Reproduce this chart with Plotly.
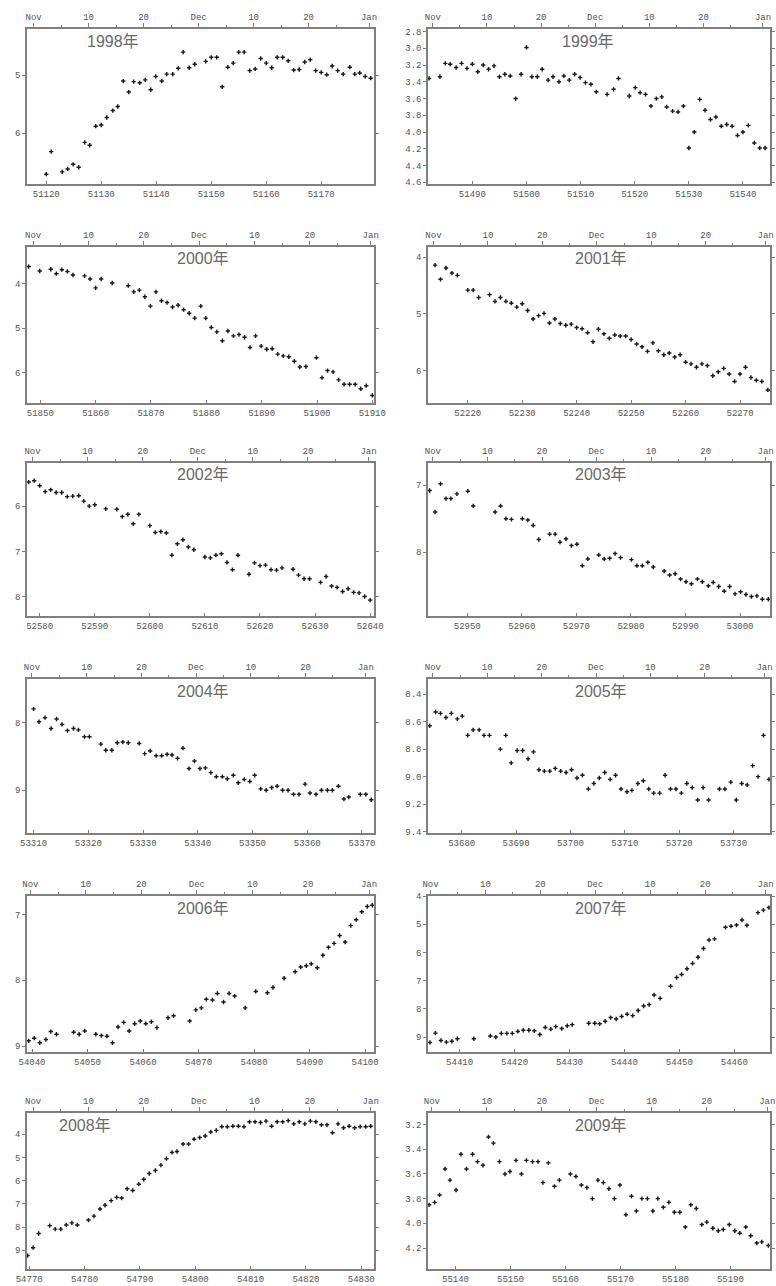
import plotly.graph_objects as go
from datetime import date

W, H = 776, 1286

years = [1998, 1999, 2000, 2001, 2002, 2003, 2004, 2005, 2006, 2007, 2008, 2009]

mjd_1998 = [51120.0, 51120.9, 51122.9, 51123.9, 51124.9, 51125.9, 51127.0, 51127.9, 51129.0, 51130.0,
            51131.0, 51132.1, 51133.0, 51134.0, 51135.0, 51135.9, 51137.0, 51138.0, 51139.0, 51139.9,
            51141.0, 51141.9, 51143.0, 51144.0, 51144.9, 51146.0, 51147.0, 51149.0, 51150.0, 51151.0,
            51152.0, 51153.0, 51154.0, 51155.0, 51156.0, 51157.0, 51158.0, 51159.0, 51160.0, 51161.0,
            51162.0, 51163.0, 51164.0, 51165.0, 51166.0, 51167.0, 51168.0, 51169.0, 51170.0, 51171.0,
            51172.0, 51173.0, 51174.0, 51175.2, 51176.1, 51177.0, 51178.0, 51179.0]
mag_1998 = [6.71, 6.32, 6.67, 6.62, 6.54, 6.59, 6.16, 6.21, 5.88, 5.86,
            5.73, 5.61, 5.54, 5.10, 5.29, 5.11, 5.13, 5.08, 5.25, 5.02,
            5.10, 4.98, 4.98, 4.88, 4.60, 4.87, 4.81, 4.76, 4.69, 4.69,
            5.20, 4.86, 4.79, 4.60, 4.60, 4.92, 4.89, 4.71, 4.79, 4.87,
            4.69, 4.69, 4.75, 4.91, 4.90, 4.77, 4.73, 4.92, 4.95, 4.99,
            4.84, 4.92, 4.98, 4.86, 4.98, 4.96, 5.02, 5.05]

mjd_1999 = [51482.0, 51484.0, 51485.0, 51485.9, 51487.0, 51488.0, 51489.0, 51490.0, 51491.0, 51492.0,
            51493.0, 51494.0, 51495.0, 51496.0, 51497.0, 51498.0, 51499.0, 51500.0, 51501.0, 51502.0,
            51502.9, 51504.0, 51504.9, 51506.0, 51506.9, 51507.9, 51508.9, 51509.9, 51510.9, 51511.9,
            51512.9, 51514.9, 51516.1, 51517.0, 51519.0, 51520.1, 51521.0, 51522.0, 51523.0, 51524.0,
            51525.0, 51525.9, 51527.0, 51528.0, 51529.0, 51530.0, 51531.0, 51532.0, 51533.0, 51534.0,
            51535.0, 51536.0, 51537.0, 51538.0, 51539.0, 51540.0, 51541.0, 51542.1, 51543.1, 51544.1]
mag_1999 = [3.36, 3.34, 3.18, 3.19, 3.23, 3.18, 3.24, 3.19, 3.28, 3.20,
            3.25, 3.21, 3.34, 3.31, 3.33, 3.60, 3.31, 2.99, 3.34, 3.34,
            3.25, 3.38, 3.34, 3.40, 3.33, 3.38, 3.31, 3.35, 3.41, 3.43,
            3.52, 3.55, 3.49, 3.36, 3.57, 3.47, 3.53, 3.55, 3.69, 3.60,
            3.58, 3.70, 3.75, 3.76, 3.69, 4.19, 4.00, 3.61, 3.74, 3.85,
            3.82, 3.93, 3.91, 3.93, 4.04, 4.00, 3.92, 4.13, 4.19, 4.19]

mjd_2000 = [51847.9, 51849.9, 51851.9, 51852.9, 51853.9, 51854.9, 51855.9, 51858.0, 51859.0, 51860.0,
            51861.0, 51863.0, 51865.9, 51866.9, 51867.9, 51868.9, 51869.9, 51870.9, 51871.9, 51872.9,
            51873.9, 51874.9, 51875.9, 51876.9, 51877.9, 51879.0, 51879.9, 51880.9, 51881.9, 51882.9,
            51883.9, 51884.9, 51885.9, 51886.9, 51887.9, 51888.9, 51889.9, 51890.9, 51891.9, 51892.9,
            51893.9, 51894.9, 51895.9, 51896.9, 51898.0, 51899.9, 51900.9, 51901.9, 51902.9, 51903.9,
            51904.9, 51905.9, 51906.9, 51907.9, 51908.9, 51910.0]
mag_2000 = [3.61, 3.71, 3.67, 3.77, 3.68, 3.72, 3.80, 3.82, 3.89, 4.09,
            3.89, 3.98, 4.04, 4.18, 4.14, 4.29, 4.50, 4.18, 4.38, 4.42,
            4.52, 4.48, 4.58, 4.66, 4.77, 4.50, 4.77, 4.98, 5.08, 5.28,
            5.06, 5.17, 5.14, 5.20, 5.43, 5.17, 5.40, 5.47, 5.46, 5.58,
            5.62, 5.64, 5.74, 5.87, 5.86, 5.66, 6.11, 5.95, 5.98, 6.16,
            6.26, 6.26, 6.26, 6.36, 6.29, 6.51]

mjd_2001 = [52214.0, 52215.0, 52216.0, 52217.1, 52218.1, 52220.0, 52221.0, 52222.0, 52224.0, 52225.0,
            52226.0, 52227.0, 52228.0, 52229.0, 52230.0, 52231.0, 52232.0, 52233.0, 52234.0, 52235.0,
            52236.0, 52237.0, 52238.0, 52239.0, 52240.0, 52241.0, 52242.0, 52243.0, 52244.0, 52245.0,
            52246.0, 52247.0, 52248.0, 52249.0, 52250.0, 52251.0, 52252.0, 52253.0, 52254.0, 52255.0,
            52256.0, 52257.0, 52258.0, 52259.0, 52260.0, 52261.0, 52262.0, 52263.0, 52264.0, 52265.0,
            52266.0, 52267.0, 52268.0, 52269.0, 52270.0, 52271.0, 52272.0, 52273.0, 52274.0, 52275.1]
mag_2001 = [4.14, 4.39, 4.19, 4.28, 4.32, 4.58, 4.58, 4.71, 4.66, 4.78,
            4.71, 4.78, 4.81, 4.88, 4.82, 4.94, 5.09, 5.03, 4.99, 5.16,
            5.09, 5.17, 5.20, 5.18, 5.24, 5.26, 5.33, 5.49, 5.27, 5.35,
            5.43, 5.37, 5.39, 5.39, 5.45, 5.53, 5.58, 5.66, 5.51, 5.65,
            5.72, 5.69, 5.76, 5.72, 5.85, 5.88, 5.94, 5.88, 5.91, 6.09,
            6.02, 5.96, 6.06, 6.19, 6.06, 5.94, 6.12, 6.17, 6.19, 6.34]

mjd_2002 = [52578.0, 52579.0, 52580.0, 52581.0, 52582.0, 52583.0, 52584.0, 52585.0, 52586.0, 52587.1,
            52588.0, 52589.0, 52590.0, 52592.0, 52594.0, 52595.0, 52596.0, 52597.0, 52598.0, 52600.0,
            52601.0, 52602.0, 52603.0, 52604.0, 52605.0, 52606.0, 52607.0, 52608.0, 52610.0, 52611.0,
            52612.0, 52613.0, 52614.0, 52615.0, 52616.0, 52618.0, 52619.0, 52620.0, 52621.0, 52622.0,
            52623.0, 52624.0, 52626.0, 52627.0, 52628.0, 52629.0, 52631.0, 52632.0, 52633.0, 52634.0,
            52635.0, 52636.0, 52637.0, 52638.0, 52639.0, 52640.0]
mag_2002 = [5.47, 5.44, 5.55, 5.68, 5.64, 5.70, 5.70, 5.79, 5.78, 5.77,
            5.89, 6.00, 5.97, 6.06, 6.07, 6.23, 6.18, 6.39, 6.18, 6.43,
            6.58, 6.56, 6.59, 7.08, 6.83, 6.74, 6.90, 6.96, 7.12, 7.14,
            7.08, 7.05, 7.24, 7.40, 7.08, 7.50, 7.25, 7.31, 7.30, 7.40,
            7.41, 7.36, 7.39, 7.52, 7.60, 7.60, 7.68, 7.55, 7.76, 7.79,
            7.88, 7.82, 7.90, 7.91, 7.99, 8.07]

mjd_2003 = [52943.1, 52944.1, 52945.1, 52946.1, 52947.0, 52948.1, 52950.1, 52951.1, 52955.1, 52956.1,
            52957.1, 52958.1, 52960.1, 52961.1, 52962.1, 52963.1, 52965.1, 52966.1, 52967.0, 52968.1,
            52969.1, 52970.1, 52971.1, 52972.1, 52974.1, 52975.1, 52976.1, 52977.1, 52978.1, 52980.1,
            52981.1, 52982.1, 52983.1, 52984.1, 52986.1, 52987.1, 52988.1, 52989.1, 52990.1, 52991.1,
            52992.2, 52993.1, 52994.2, 52995.1, 52996.1, 52997.1, 52998.1, 52999.1, 53000.1, 53001.1,
            53002.1, 53003.1, 53004.1, 53005.2]
mag_2003 = [7.08, 7.40, 6.98, 7.20, 7.20, 7.13, 7.09, 7.31, 7.40, 7.31,
            7.50, 7.51, 7.50, 7.52, 7.60, 7.81, 7.73, 7.73, 7.85, 7.80,
            7.90, 7.88, 8.20, 8.10, 8.04, 8.10, 8.09, 8.02, 8.08, 8.11,
            8.20, 8.20, 8.15, 8.22, 8.28, 8.34, 8.32, 8.40, 8.44, 8.47,
            8.40, 8.44, 8.50, 8.45, 8.51, 8.58, 8.51, 8.62, 8.59, 8.63,
            8.66, 8.65, 8.70, 8.70]

mjd_2004 = [53310.0, 53311.0, 53312.1, 53313.2, 53314.2, 53315.2, 53316.2, 53317.3, 53318.2, 53319.3,
            53320.2, 53322.3, 53323.2, 53324.3, 53325.3, 53326.3, 53327.3, 53329.3, 53330.3, 53331.3,
            53332.4, 53333.4, 53334.4, 53335.3, 53336.3, 53337.3, 53338.4, 53339.4, 53340.4, 53341.4,
            53342.4, 53343.4, 53344.5, 53345.4, 53346.5, 53347.4, 53348.5, 53349.5, 53350.4, 53351.5,
            53352.5, 53353.5, 53354.5, 53355.5, 53356.5, 53357.5, 53358.5, 53359.6, 53360.5, 53361.6,
            53362.6, 53363.7, 53364.6, 53365.7, 53366.7, 53367.6, 53369.7, 53370.7, 53371.7]
mag_2004 = [7.80, 7.99, 7.93, 8.09, 7.95, 8.03, 8.12, 8.09, 8.11, 8.21,
            8.21, 8.32, 8.41, 8.41, 8.30, 8.29, 8.30, 8.31, 8.46, 8.42,
            8.49, 8.49, 8.47, 8.48, 8.53, 8.38, 8.68, 8.57, 8.68, 8.67,
            8.74, 8.80, 8.80, 8.83, 8.78, 8.89, 8.84, 8.87, 8.78, 8.98,
            9.00, 8.96, 8.94, 9.00, 9.00, 9.06, 9.06, 8.91, 9.04, 9.06,
            9.00, 9.00, 9.00, 8.94, 9.13, 9.10, 9.06, 9.06, 9.14]

mjd_2005 = [53674.1, 53675.2, 53676.1, 53677.1, 53678.1, 53679.2, 53680.1, 53681.1, 53682.1, 53683.2,
            53684.1, 53685.1, 53687.1, 53688.1, 53689.1, 53690.2, 53691.2, 53692.2, 53693.2, 53694.2,
            53695.2, 53696.2, 53697.2, 53698.2, 53699.2, 53700.2, 53701.2, 53702.2, 53703.3, 53704.3,
            53705.3, 53706.3, 53707.3, 53708.3, 53709.3, 53710.4, 53711.3, 53712.4, 53713.4, 53714.4,
            53715.3, 53716.4, 53717.4, 53718.4, 53719.4, 53720.4, 53721.4, 53722.4, 53723.4, 53724.4,
            53725.4, 53727.4, 53728.4, 53729.5, 53730.5, 53731.5, 53732.5, 53733.5, 53734.5, 53735.5,
            53736.5]
mag_2005 = [8.63, 8.53, 8.54, 8.57, 8.54, 8.58, 8.56, 8.70, 8.66, 8.66,
            8.70, 8.70, 8.80, 8.70, 8.90, 8.81, 8.81, 8.87, 8.82, 8.95,
            8.96, 8.96, 8.94, 8.96, 8.97, 8.95, 9.01, 8.99, 9.09, 9.05,
            9.01, 8.97, 9.02, 8.99, 9.09, 9.11, 9.10, 9.05, 9.03, 9.09,
            9.12, 9.12, 8.99, 9.09, 9.09, 9.12, 9.05, 9.08, 9.17, 9.08,
            9.17, 9.09, 9.09, 9.04, 9.17, 9.05, 9.06, 8.92, 9.00, 8.70,
            9.02]

mjd_2006 = [54039.4, 54040.4, 54041.4, 54042.5, 54043.4, 54044.4, 54047.5, 54048.5, 54049.5, 54051.5,
            54052.5, 54053.5, 54054.5, 54055.5, 54056.5, 54057.5, 54058.5, 54059.5, 54060.5, 54061.5,
            54062.5, 54064.5, 54065.5, 54068.4, 54069.5, 54070.5, 54071.4, 54072.5, 54073.4, 54074.5,
            54075.5, 54076.5, 54078.4, 54080.3, 54082.4, 54083.4, 54085.4, 54087.4, 54088.4, 54089.4,
            54090.3, 54091.4, 54092.4, 54093.4, 54094.4, 54095.4, 54096.4, 54097.4, 54098.4, 54099.4,
            54100.4, 54101.3]
mag_2006 = [8.92, 8.88, 8.95, 8.90, 8.78, 8.82, 8.79, 8.82, 8.77, 8.82,
            8.84, 8.85, 8.95, 8.71, 8.64, 8.77, 8.66, 8.62, 8.66, 8.63,
            8.72, 8.57, 8.54, 8.62, 8.45, 8.42, 8.29, 8.30, 8.20, 8.33,
            8.20, 8.24, 8.42, 8.17, 8.19, 8.11, 7.97, 7.87, 7.80, 7.78,
            7.75, 7.81, 7.62, 7.50, 7.44, 7.32, 7.42, 7.17, 7.08, 6.96,
            6.88, 6.86]

mjd_2007 = [54404.6, 54405.6, 54406.6, 54407.6, 54408.6, 54409.6, 54412.6, 54415.6, 54416.6, 54417.6,
            54418.6, 54419.6, 54420.6, 54421.6, 54422.6, 54423.6, 54424.6, 54425.6, 54426.6, 54427.5,
            54428.6, 54429.6, 54430.5, 54433.5, 54434.6, 54435.5, 54436.5, 54437.5, 54438.5, 54439.5,
            54440.5, 54441.5, 54442.5, 54443.5, 54444.5, 54445.4, 54446.5, 54448.4, 54449.5, 54450.4,
            54451.4, 54452.4, 54453.4, 54454.4, 54455.4, 54456.4, 54458.4, 54459.4, 54460.4, 54461.4,
            54462.3, 54464.3, 54465.3, 54466.3]
mag_2007 = [9.19, 8.86, 9.12, 9.18, 9.15, 9.06, 9.06, 8.96, 9.00, 8.87,
            8.87, 8.87, 8.80, 8.76, 8.76, 8.78, 8.91, 8.66, 8.72, 8.63,
            8.70, 8.60, 8.56, 8.51, 8.51, 8.53, 8.44, 8.31, 8.36, 8.27,
            8.19, 8.24, 8.06, 7.90, 7.85, 7.51, 7.63, 7.20, 6.89, 6.78,
            6.58, 6.39, 6.17, 5.86, 5.56, 5.52, 5.11, 5.07, 5.03, 4.85,
            5.04, 4.59, 4.50, 4.41]

mjd_2008 = [54769.7, 54770.7, 54771.7, 54773.7, 54774.7, 54775.7, 54776.7, 54777.7, 54778.7, 54780.7,
            54781.7, 54782.8, 54783.7, 54784.8, 54785.8, 54786.7, 54787.7, 54788.7, 54789.8, 54790.7,
            54791.7, 54792.8, 54793.8, 54794.8, 54795.8, 54796.7, 54797.8, 54798.8, 54799.8, 54800.8,
            54801.8, 54802.8, 54803.8, 54804.8, 54805.8, 54806.8, 54807.8, 54808.8, 54809.8, 54810.8,
            54811.8, 54812.8, 54813.8, 54814.8, 54815.8, 54816.8, 54817.8, 54818.8, 54819.8, 54820.8,
            54821.8, 54822.8, 54823.8, 54824.8, 54825.8, 54826.8, 54827.8, 54828.8, 54829.8, 54830.8,
            54831.7]
mag_2008 = [9.23, 8.89, 8.28, 7.94, 8.09, 8.09, 7.91, 7.82, 7.91, 7.70,
            7.53, 7.22, 7.06, 6.86, 6.72, 6.75, 6.35, 6.42, 6.15, 5.94,
            5.69, 5.56, 5.33, 5.05, 4.78, 4.74, 4.42, 4.42, 4.21, 4.14,
            4.07, 3.90, 3.83, 3.67, 3.67, 3.65, 3.65, 3.67, 3.46, 3.46,
            3.49, 3.43, 3.65, 3.46, 3.46, 3.41, 3.55, 3.46, 3.55, 3.43,
            3.46, 3.59, 3.59, 3.93, 3.55, 3.72, 3.65, 3.72, 3.67, 3.67,
            3.65]

mjd_2009 = [55135.2, 55136.2, 55137.1, 55138.1, 55139.0, 55140.1, 55141.0, 55142.0, 55143.1, 55144.0,
            55145.0, 55146.0, 55146.9, 55148.0, 55149.0, 55149.9, 55151.0, 55152.0, 55152.9, 55154.0,
            55155.0, 55155.9, 55156.9, 55158.0, 55158.9, 55160.9, 55161.9, 55162.9, 55163.9, 55164.9,
            55165.9, 55166.9, 55167.9, 55168.9, 55169.9, 55171.0, 55172.0, 55172.9, 55173.9, 55174.9,
            55175.9, 55176.8, 55177.8, 55178.8, 55179.8, 55180.8, 55181.8, 55182.8, 55183.8, 55184.8,
            55185.7, 55186.8, 55187.8, 55188.7, 55189.8, 55190.8, 55191.7, 55192.8, 55193.7, 55194.8,
            55195.7, 55196.9]
mag_2009 = [3.85, 3.83, 3.77, 3.56, 3.65, 3.73, 3.44, 3.56, 3.44, 3.50,
            3.53, 3.30, 3.35, 3.50, 3.60, 3.58, 3.49, 3.60, 3.49, 3.50,
            3.50, 3.67, 3.51, 3.70, 3.65, 3.60, 3.62, 3.69, 3.71, 3.80,
            3.65, 3.67, 3.72, 3.80, 3.69, 3.93, 3.78, 3.90, 3.80, 3.80,
            3.90, 3.80, 3.87, 3.83, 3.91, 3.91, 4.03, 3.85, 3.88, 4.01,
            3.99, 4.04, 4.06, 4.05, 4.01, 4.06, 4.08, 4.03, 4.10, 4.16,
            4.15, 4.18]

mjd = {1998: mjd_1998, 1999: mjd_1999, 2000: mjd_2000, 2001: mjd_2001, 2002: mjd_2002, 2003: mjd_2003,
       2004: mjd_2004, 2005: mjd_2005, 2006: mjd_2006, 2007: mjd_2007, 2008: mjd_2008, 2009: mjd_2009}
mag = {1998: mag_1998, 1999: mag_1999, 2000: mag_2000, 2001: mag_2001, 2002: mag_2002, 2003: mag_2003,
       2004: mag_2004, 2005: mag_2005, 2006: mag_2006, 2007: mag_2007, 2008: mag_2008, 2009: mag_2009}

# top-axis calendar labels
date_labels = ["Nov", "10", "20", "Dec", "10", "20", "Jan"]
date_days = [0, 10, 20, 30, 40, 50, 61]
minor_days = [5, 15, 25, 35, 45, 55]

# axis view settings (x as [days before Nov 1, days after Jan 1], y range top..bottom, tick step)
x_pad = {1998: (1.5, 0.6), 1999: (1.2, 1.0), 2000: (1.4, 0.3), 2001: (1.3, 0.5), 2002: (1.3, 0.7),
         2003: (1.2, 0.5), 2004: (1.2, 1.2), 2005: (1.2, 0.7), 2006: (0.9, 0.6), 2007: (0.75, 0.5),
         2008: (1.4, 0.3), 2009: (1.0, 0.2)}
y_view = {1998: (4.20, 6.88, 1), 1999: (2.77, 4.62, 0.2), 2000: (3.17, 6.68, 1), 2001: (3.82, 6.57, 1),
          2002: (5.05, 8.42, 1), 2003: (6.67, 8.95, 1), 2004: (7.36, 9.63, 1), 2005: (8.29, 9.41, 0.2),
          2006: (6.72, 9.09, 1), 2007: (4.0, 9.53, 1), 2008: (3.08, 9.81, 1), 2009: (3.106, 4.37, 0.2)}

cols_px = [(27, 374), (428, 770)]
rows_px = [(29, 184), (247, 403), (463, 616), (679, 833), (896, 1052), (1113, 1269)]
title_x_px = {1998: 113, 1999: 588, 2008: 85}

MJD0 = date(1858, 11, 17)


def mjd_of(d):
    return (d - MJD0).days


tick_font = dict(family="Liberation Mono, DejaVu Sans Mono, monospace", size=9, color="#555")
line_col = "#808080"

fig = go.Figure()
layout = dict(width=W, height=H, margin=dict(l=0, r=0, t=0, b=0, autoexpand=False),
              paper_bgcolor="white", plot_bgcolor="white", showlegend=False)
annotations = []

for k, yr in enumerate(years):
    row, col = divmod(k, 2)
    x0p, x1p = cols_px[col]
    y0p, y1p = rows_px[row]
    xd = [x0p / W, x1p / W]
    yd = [1 - y1p / H, 1 - y0p / H]

    nov1 = mjd_of(date(yr, 11, 1))
    jan1 = mjd_of(date(yr + 1, 1, 1))
    lo, hi = x_pad[yr]
    xr = [nov1 - lo, jan1 + hi]
    ytop, ybot, ystep = y_view[yr]

    ib, it, iy = 2 * k + 1, 2 * k + 2, k + 1
    xb = "x" if ib == 1 else f"x{ib}"
    xt = f"x{it}"
    yn = "y" if iy == 1 else f"y{iy}"
    kb = "xaxis" if ib == 1 else f"xaxis{ib}"
    kt = f"xaxis{it}"
    ky = "yaxis" if iy == 1 else f"yaxis{iy}"

    fig.add_trace(go.Scatter(x=mjd[yr], y=mag[yr], mode="markers", xaxis=xb, yaxis=yn,
                             marker=dict(symbol="cross", size=3.6, color="#1a1a1a", line=dict(width=0)),
                             hoverinfo="x+y"))
    fig.add_trace(go.Scatter(x=[], y=[], mode="markers", xaxis=xt, yaxis=yn, hoverinfo="skip"))

    layout[kb] = dict(domain=xd, anchor=yn, range=xr, showgrid=False, zeroline=False,
                      showline=True, linecolor=line_col, linewidth=1.5, mirror=False,
                      ticks="inside", ticklen=3, tickcolor=line_col, dtick=10, tick0=0,
                      tickformat="d", tickfont=tick_font, automargin=False,
                      ticklabeloverflow="allow")
    layout[kt] = dict(overlaying=xb, side="top", anchor=yn, range=xr, showgrid=False, zeroline=False,
                      showline=True, linecolor=line_col, linewidth=1.5,
                      ticks="outside", ticklen=4, tickcolor=line_col,
                      tickmode="array", tickvals=[nov1 - 0.3 + d for d in date_days],
                      ticktext=date_labels, tickfont=tick_font, automargin=False,
                      ticklabeloverflow="allow",
                      minor=dict(tickmode="array", tickvals=[nov1 - 0.3 + d for d in minor_days],
                                 ticks="outside", ticklen=2, tickcolor=line_col))
    yax = dict(domain=yd, anchor=xb, range=[ybot, ytop], showgrid=False, zeroline=False,
               showline=True, linecolor=line_col, linewidth=1.5, mirror="ticks",
               ticks="outside", ticklen=3, tickcolor=line_col, tick0=0, dtick=ystep,
               tickfont=tick_font, automargin=False)
    if ystep < 1:
        yax["tickformat"] = ".1f"
    layout[ky] = yax

    tx = title_x_px.get(yr, 203 if col == 0 else 601)
    annotations.append(dict(text=f"{yr}年", xref="paper", yref="paper", x=tx / W,
                            y=1 - (y0p + 12) / H, xanchor="center", yanchor="middle",
                            showarrow=False,
                            font=dict(family="Liberation Sans, Noto Sans CJK SC, sans-serif",
                                      size=16, color="#6a6a6a")))

layout["annotations"] = annotations
fig.update_layout(**layout)
fig.write_html("out.html", config={"displayModeBar": False},
               post_script="document.body.style.margin='0';document.body.style.overflow='hidden';")
